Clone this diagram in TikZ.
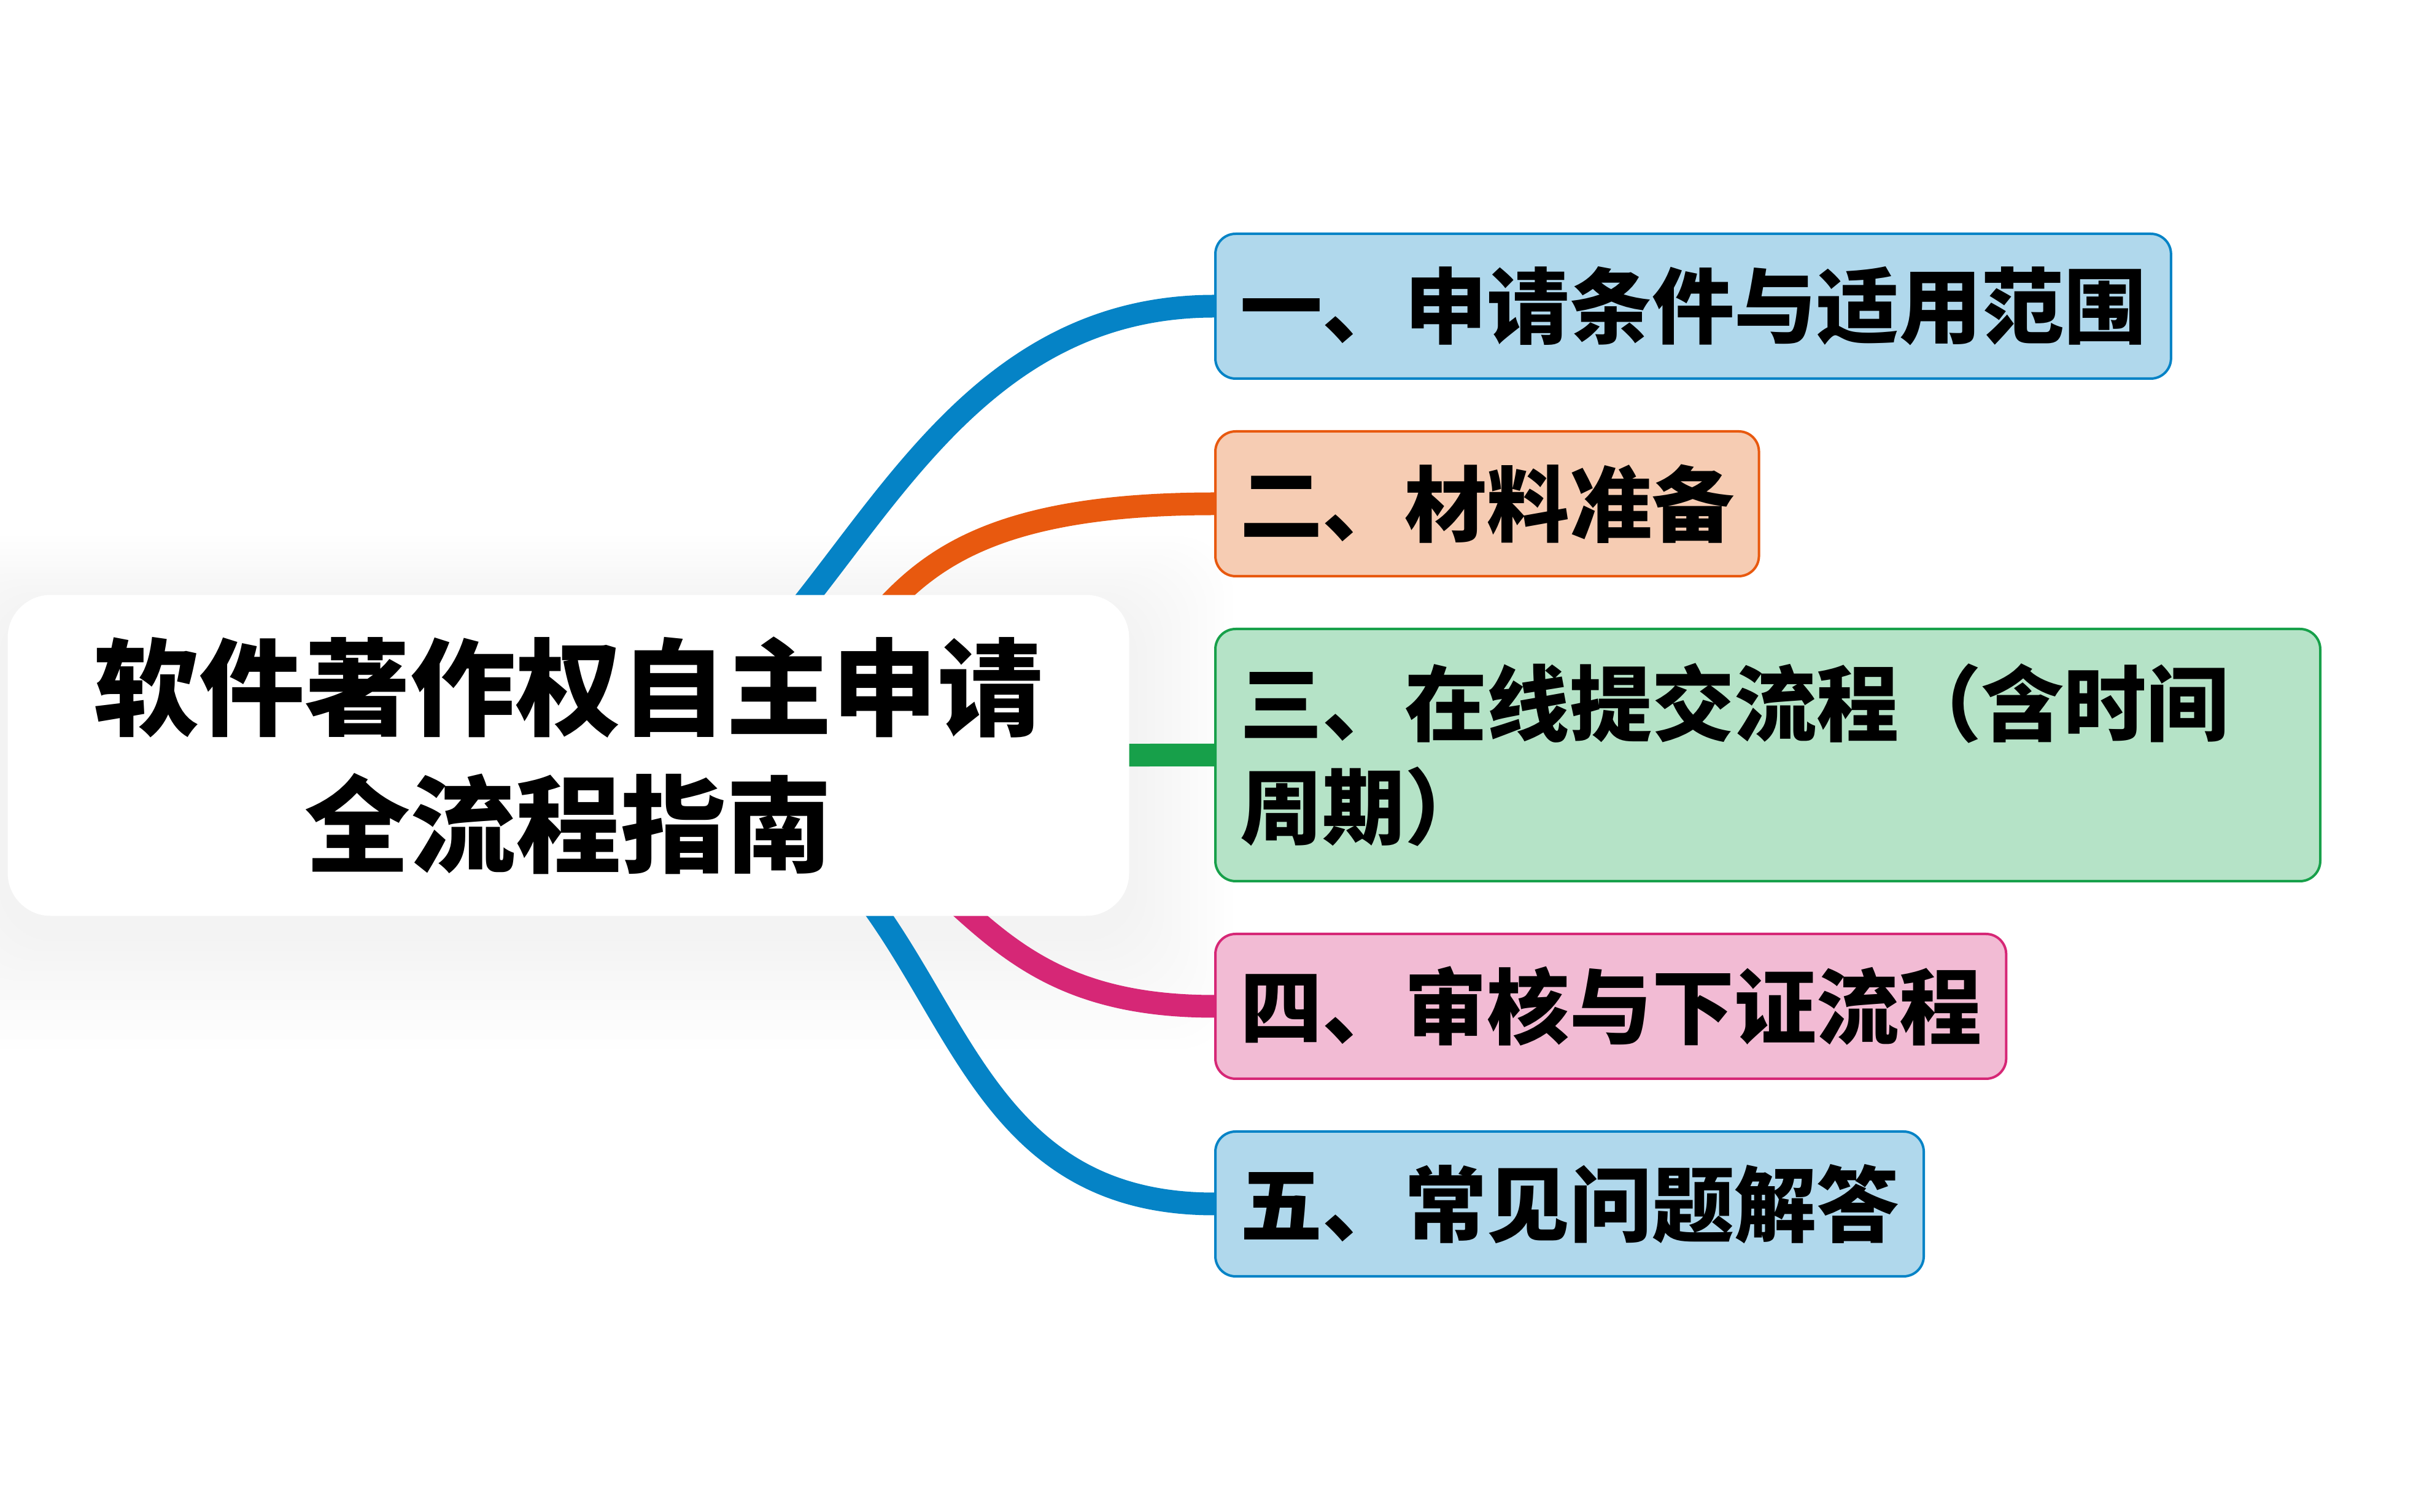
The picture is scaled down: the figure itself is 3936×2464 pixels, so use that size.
\documentclass[tikz,border=0pt]{standalone}
\usepackage{fontspec}
\setmainfont{Noto Sans CJK SC}
\usepackage{tikz}
\usetikzlibrary{positioning,backgrounds}
\usepackage{xcolor}
\definecolor{mmblue}{HTML}{0583C6}
\definecolor{mmorange}{HTML}{E8590F}
\definecolor{mmgreen}{HTML}{17A04A}
\definecolor{mmpink}{HTML}{D62776}
\definecolor{mmbluefill}{HTML}{B0D8EC}
\definecolor{mmorangefill}{HTML}{F6CCB3}
\definecolor{mmgreenfill}{HTML}{B5E3C7}
\definecolor{mmpinkfill}{HTML}{F2BBD4}

\begin{document}
\begin{tikzpicture}[
  x=0.1mm, y=-0.1mm,
  node distance=8.2mm,
  topic/.style={fill=white, rounded corners=7mm, align=center, minimum width=182.7mm, minimum height=52.3mm, font=\bfseries\fontsize{48.9}{63.4}\selectfont},
  branch/.style={draw=#1, fill=#1fill, line width=0.4mm, rounded corners=3.3mm, align=left, inner xsep=4mm, minimum height=23.6mm, font=\bfseries\fontsize{38.2}{47.8}\selectfont},
  link/.style={line width=3.7mm, draw=#1}
]
\useasboundingbox (0,0) rectangle (3936,2464);
\node[topic] (root) at (926,1231) {软件著作权自主申请\\全流程指南};
\node[branch=mmblue, anchor=west] (b1) at (1978,499) {一、申请条件与适用范围};
\node[branch=mmorange, below=of b1.south west, anchor=north west] (b2) {二、材料准备};
\node[branch=mmgreen, text width=172mm, minimum height=41.1mm, below=of b2.south west, anchor=north west] (b3) {三、在线提交流程（含时间\\周期）};
\node[branch=mmpink, below=of b3.south west, anchor=north west] (b4) {四、审核与下证流程};
\node[branch=mmblue, below=of b4.south west, anchor=north west] (b5) {五、常见问题解答};
\begin{scope}[on background layer]
  \fill[white] (0,0) rectangle (3936,2464);
  \foreach \k in {1,...,12}
    \fill[black, opacity=0.005, rounded corners=9mm]
      ([shift={(-\k*14,-\k*10+25)}]root.north west) rectangle ([shift={(\k*14,\k*16+25)}]root.south east);
  \draw[link=mmblue] (root.center) .. controls +(420,0) and +(-560,0) .. (b1.west);
  \draw[link=mmorange] (root.center) .. controls +(650,0) and +(-757,0) .. (b2.west);
  \draw[link=mmgreen] (root.center) .. controls +(500,0) and +(-500,0) .. (b3.west);
  \draw[link=mmpink] (root.center) .. controls +(687,0) and +(-511,0) .. (b4.west);
  \draw[link=mmblue] (root.center) .. controls +(682,0) and +(-558,0) .. (b5.west);
\end{scope}
\end{tikzpicture}
\end{document}
